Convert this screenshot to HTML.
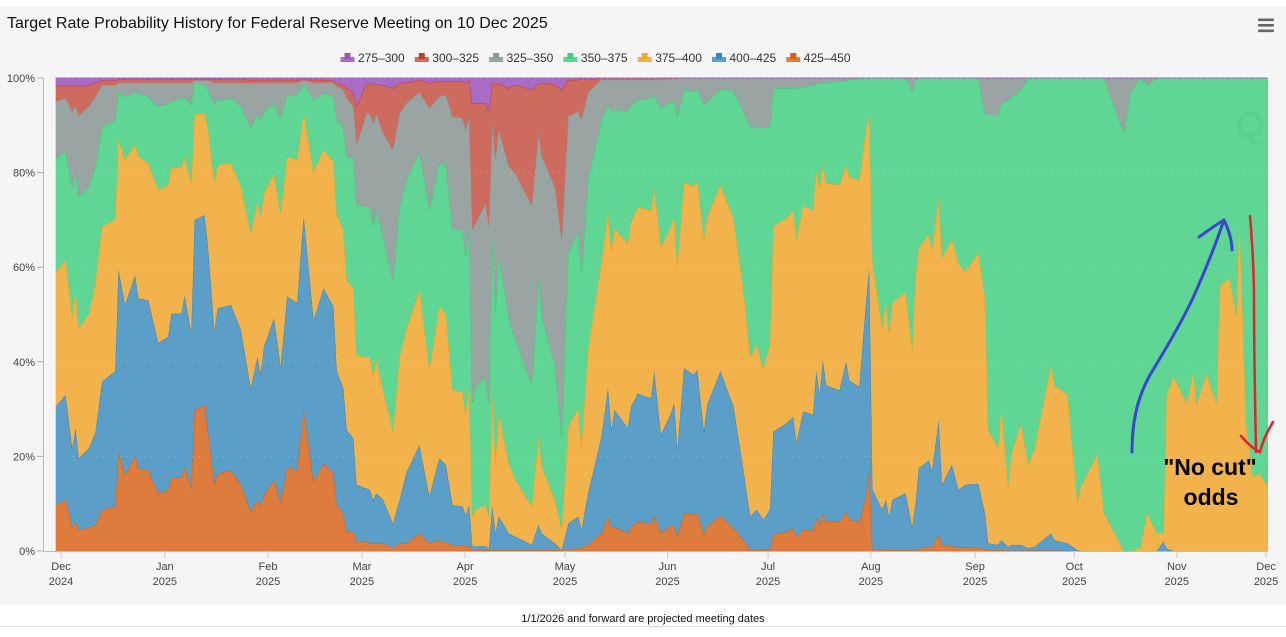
<!DOCTYPE html>
<html><head><meta charset="utf-8">
<style>
html,body{margin:0;padding:0;background:#fff;}
body{width:1286px;height:637px;overflow:hidden;position:relative;font-family:"Liberation Sans",sans-serif;}
#chart{position:absolute;left:0;top:0;}
</style></head>
<body>
<svg id="chart" width="1286" height="637" viewBox="0 0 1286 637" xmlns="http://www.w3.org/2000/svg">
  <rect x="0" y="6" width="1286" height="599" fill="#f5f5f5"/>
  <line x1="0" y1="626.5" x2="1286" y2="626.5" stroke="#dcdcdc" stroke-width="1"/>
  <text x="7" y="28" font-size="16" fill="#111" font-family="Liberation Sans, sans-serif">Target Rate Probability History for Federal Reserve Meeting on 10 Dec 2025</text>
  <g>
    <rect x="1258" y="18.5" width="16" height="2.6" rx="1" fill="#666"/>
    <rect x="1258" y="24" width="16" height="2.6" rx="1" fill="#666"/>
    <rect x="1258" y="29.5" width="16" height="2.6" rx="1" fill="#666"/>
  </g>
  <g id="legend"></g>
  <g id="areas"></g>
  <g id="grid"></g>
  <g id="axes"></g>
  <text x="1250" y="138" font-size="38" font-weight="bold" fill="#4cc77f" text-anchor="middle" opacity="0.3">Q</text>
  <g>
    <path d="M1132,452 C1132,425 1136,400 1150,375 C1165,350 1180,325 1192,300 C1202,278 1212,255 1224,220 M1224,220 C1228,228 1232,240 1232,250 M1224,220 C1214,226 1206,232 1199,237" fill="none" stroke="#3a45d0" stroke-width="3" stroke-linecap="round"/>
    <path d="M1250,216 C1252,240 1254,270 1254,300 C1254,340 1255,400 1256,452 M1241,436 C1248,444 1255,450 1260,452 C1263,440 1268,430 1273,422" fill="none" stroke="#e8202a" stroke-width="2.5" stroke-linecap="round"/>
    <text x="1210" y="475" font-size="23" font-weight="bold" fill="#000" text-anchor="middle">"No cut"</text>
    <text x="1211" y="505" font-size="23" font-weight="bold" fill="#000" text-anchor="middle">odds</text>
  </g>
  <text x="643" y="622" font-size="11" fill="#111" text-anchor="middle">1/1/2026 and forward are projected meeting dates</text>
</svg>
<script>
// Days since 2024-12-01
const days = [-1,2,4,5,6,9,11,13,17,18,20,23,24,27,30,33,34,37,38,40,41,44,45,47,48,52,55,58,60,61,62,65,67,69,72,74,77,80,83,84,86,87,89,90,93,94,95,96,98,101,103,105,109,112,115,117,119,122,123,124,125,126,129,130,131,132,133,136,138,143,145,146,150,152,154,157,158,160,164,166,167,168,172,173,175,179,180,182,185,186,187,189,192,193,195,196,200,204,207,209,211,213,215,216,220,222,223,225,228,229,230,231,232,236,238,239,242,244,245,246,249,250,251,252,256,258,259,260,263,264,266,267,270,272,274,278,280,281,284,285,287,288,291,293,295,300,301,305,308,309,314,316,322,324,327,329,332,334,335,337,341,343,344,347,350,351,354,356,357,359,361,363,366];
// Cumulative probability (%) up to top of each bucket, stacked from 425-450 upward
const cum425 = [9.7,10.8,5,6.2,4.4,5,5.5,8.7,9.4,21,16,20.3,17.5,17,12.2,12.9,15.6,15.6,17.8,13.2,29.8,30.9,25.6,14,16.4,17,14,8.3,10.8,9.7,11.8,15,10.4,17.8,17,29.8,14.7,18.5,16.4,9.7,8,4,4,2,2,1.6,1.6,1.6,1.6,0.6,1.6,1.6,3.7,1.6,2.3,1.8,1.3,1.1,1,1,0.2,0.2,0.2,0.2,0.2,0.2,0.2,0.2,0.2,0.2,0.2,0.2,0.2,0.2,0.4,0.6,0.6,1.3,3.7,7.3,4.8,5.1,3.7,5.1,6.2,5.8,7.6,3.7,5.5,5.1,3,8,7.7,7.9,3.7,5.1,7.6,4.8,2.3,0.2,0.3,0.3,0.3,3.7,4,4.8,3,4.4,4.4,6.9,5.5,8,6.2,6.2,8.3,6.6,6.2,11.5,17,0.4,0.3,0.2,0.2,0.2,0.2,0.2,0.3,0.4,0.9,0.9,3.4,1.3,1,0.8,0.8,0.6,0.5,0.2,0.2,0.2,0.1,0.1,0.1,0.1,0.1,0.1,0.1,0,0,0,0,0,0,0,0,0,0,0,0,0,0,0,0,0,0,0,0,0,0,0,0,0,0,0,0];
const cum400 = [30.5,33,21.7,26,19.6,21.7,25,35.8,38,59.5,52,58.3,53.4,53,44,45.3,50.2,50.2,54,46,70,71,65,46.4,51.3,52,46.7,34.4,41,37.6,43.2,49.2,39,53.8,52.4,70.7,48.8,55.5,51.7,38,34.4,25.6,23.8,14,13.2,12.9,10.8,12.2,10.8,5.8,10.8,16.4,22.4,11.5,19.6,18.2,9.7,9.4,7.6,9.7,1,1,1,0.5,9.4,3.7,7.3,3.7,3,1.3,5.5,3.7,1.6,0.2,5.8,7.3,4.4,12.2,24,34.4,25.6,29.8,26,30.5,33.3,32.3,38,24.5,29,31.2,21.4,38.6,37.2,38.3,25.2,30.9,38,30.5,17,7.3,8.7,6.6,8.7,25.2,27,28.4,22.8,29.5,28.8,38,33,40.4,35,34,40,36,34.7,52.4,59.8,12.9,8.7,10.8,7.2,10.8,12.2,5,10,17.5,19.2,16.9,27.7,14,18.2,12.9,14,14.2,8,1.6,1.3,2.3,0.9,1.3,1.3,0.6,0.9,3.7,2.3,1.6,0.2,0,0,0,0,0,0,0,0,2,0.5,0,0,0,0,0,0,0,0,0,0,0,0,0,0,0,0];
const cum375 = [59,61.5,49.5,55,47,50,56.6,68.6,70,87,82.7,86,83.4,82,76.3,77.4,81,81,83.4,77.7,92.2,92.5,89.4,77.7,81.6,82,77,67.2,73.9,70.7,75.6,79.8,71.4,83.4,82.7,92.5,80.2,84.8,82.3,71,67.9,57.3,55.5,41.4,41,41,36.9,40.4,34,25.2,41,46.7,55.5,38.3,51.7,50,34,33.7,28.8,34.4,7.3,8.7,9.7,7.3,33,18.5,29,18.5,15,9.4,24,17.8,10.8,4.4,26.3,30.2,22,42.5,60.8,71.7,63.3,68.2,65,69.6,72.8,72,76.7,64,68.6,70.7,59.8,78,77,78.4,65.8,70.7,77.4,70.3,55,41,43.6,38.3,44,68.6,70.3,72,65.8,73,72,80.5,76.7,81.6,77.7,77.4,81.6,79,78.4,89,92.2,60.8,47,53,46,52.4,54.8,42.5,58,64,66.8,63.6,74.6,62,65.8,60.8,59,63,53.8,25.6,21.7,30.5,13.6,20.6,27,18.2,21.7,39.3,35,33,10,13.6,20.6,8,0,0,0.7,8,3.7,3.7,33,36.9,31.2,37.9,31,37.6,31,56,57.7,49.5,69.6,27,15.5,16.4,13.6];
const cum350 = [83,84.5,76.7,80,75,77,81,89.7,91,97,96,97,96.8,96,94,94.6,95,95.7,96,94.3,98.9,98.5,97.5,94.6,95.3,95.7,94,89.4,92.5,91,93,94.6,91.5,96.4,96.4,98.9,95.3,96.8,96,91,89.7,83.4,83,73,72.8,72.8,68.6,72,66.5,57,72.8,78.4,84.4,72,82,81.6,67.9,67.9,62.2,68.6,31.2,34.7,36.9,31.2,66.5,50.2,62.6,49.2,44.6,35,58,49.5,39,24,63,67.5,58.7,78.4,91,94.3,93,93.2,93,94.3,95.3,95.7,96.4,93.6,95,95,91.8,97.5,97.2,97.5,94.3,95,97.5,97.2,92.9,89.7,89.7,89.4,89.7,97.8,97.8,97.8,97.8,98.1,98.4,98.9,98.9,99,99,99.2,99.4,99.6,99.8,100,100,100,100,100,100,100,100,97,99.5,100,100,100,100,100,100,100,100,100,92.5,92.2,92.2,94.6,95.3,96,97.5,100,100,100,100,100,100,100,100,100,88.3,97,100,98.5,100,100,100,100,100,100,100,100,100,100,100,100,100,100,100,100,100,100,100];
const cum325 = [95,95.7,93,94,92,94,96,98.5,98.5,99,99,99,99,99,99,99,99,99,99,99,99.5,99.5,99.5,99,99,99,99,98.9,99,99,99,99,99,99,99,99.5,99,99,99,98.2,97.5,95.7,94,86,92.5,92.5,90.4,92.5,88.3,84.8,92.5,94.6,97,93.6,96,96.5,91.8,91.5,89,91.8,67.9,69.3,73.5,68.6,90.4,82.7,89,81.3,79.8,73,88.3,83.4,77,65.7,91.8,92.9,91.2,97,99.6,99.6,99.6,99.6,99.6,99.6,99.6,99.6,99.6,99.6,99.8,99.8,99.8,100,100,100,100,100,100,100,100,100,100,100,100,100,100,100,100,100,100,100,100,100,100,100,100,100,100,100,100,100,100,100,100,100,100,100,100,100,100,100,100,100,100,100,100,100,100,100,100,100,100,100,100,100,100,100,100,100,100,100,100,100,100,100,100,100,100,100,100,100,100,100,100,100,100,100,100,100,100,100,100,100,100,100,100,100];
const cum300 = [98.5,98.5,98.5,98.5,98.5,98.5,99,99.5,99.5,99.7,99.7,99.7,99.7,99.7,99.7,99.7,99.7,99.7,99.7,99.7,99.8,99.8,99.8,99.7,99.7,99.7,99.7,99.6,99.6,99.6,99.6,99.6,99.6,99.6,99.6,99.7,99.6,99.6,99.4,99,98.5,97.8,97,94,99,98.9,98.5,98.7,98.5,97.8,99,99,99.6,98.9,99.3,99.3,99.3,99.3,98.9,99.6,94.6,94.6,94.6,92.9,98.9,98.6,98.9,97.8,98.6,97.5,98.9,98.9,98.6,97.5,99.6,99.6,99.8,99.6,100,100,100,100,100,100,100,100,100,100,100,100,100,100,100,100,100,100,100,100,100,100,100,100,100,100,100,100,100,100,100,100,100,100,100,100,100,100,100,100,100,100,100,100,100,100,100,100,100,100,100,100,100,100,100,100,100,100,100,100,100,100,100,100,100,100,100,100,100,100,100,100,100,100,100,100,100,100,100,100,100,100,100,100,100,100,100,100,100,100,100,100,100,100,100,100,100,100,100,100,100,100,100,100];
const seriesNames = ["425-450","400-425","375-400","350-375","325-350","300-325","275-300"];
const tickDays = [0.6,32,63.2,91.6,122.8,153,184,214.4,245.5,277,307,338,365];
const tickMonths = ["Dec","Jan","Feb","Mar","Apr","May","Jun","Jul","Aug","Sep","Oct","Nov","Dec"];
const tickYears = ["2024","2025","2025","2025","2025","2025","2025","2025","2025","2025","2025","2025","2025"];
const yTicks = [0,20,40,60,80,100];

const NS="http://www.w3.org/2000/svg";
const PL=55, PR=1268, PT=78, PB=551;
function xScale(d){ return 59 + d*3.307; }
function yScale(p){ return PB - (PB-PT)*p/100; }
function clampX(x){ return Math.max(PL, Math.min(PR, x)); }

const N = Math.min(days.length, cum425.length, cum400.length, cum375.length, cum350.length, cum325.length, cum300.length);
const D = days.slice(0,N);
const top100 = D.map(()=>100);
const bounds = [D.map(()=>0), cum425.slice(0,N), cum400.slice(0,N), cum375.slice(0,N), cum350.slice(0,N), cum325.slice(0,N), cum300.slice(0,N), top100];
const seriesValues = seriesNames.map((n,i)=>bounds[i+1].map((v,j)=>Math.max(0,v-bounds[i][j])));
const fills = ["#dd7c3d","#5b9ec8","#f2b24c","#5fd693","#9aa5a3","#cc6b5e","#a86cc4"];
const strokes = ["#d9610f","#3a88c0","#f5a623","#3fcf7c","#8d9a98","#c53d2e","#9b59b6"];

const areas=document.getElementById('areas');
seriesNames.forEach((name,i)=>{
  const lower = D.map((d,j)=>{let s=0; for(let k=0;k<i;k++) s+=seriesValues[k][j]; return s;});
  const upper = lower.map((v,j)=>v+seriesValues[i][j]);
  let d='';
  D.forEach((dd,j)=>{ d += (j?'L':'M')+clampX(xScale(dd)).toFixed(1)+','+yScale(upper[j]).toFixed(1); });
  for(let j=N-1;j>=0;j--){ d += 'L'+clampX(xScale(D[j])).toFixed(1)+','+yScale(lower[j]).toFixed(1); }
  d+='Z';
  const p=document.createElementNS(NS,'path');
  p.setAttribute('d',d);
  p.setAttribute('fill',fills[i]);
  
  
  areas.appendChild(p);
  let ld='';
  D.forEach((dd,j)=>{ ld += (j?'L':'M')+clampX(xScale(dd)).toFixed(1)+','+yScale(upper[j]).toFixed(1); });
  const l=document.createElementNS(NS,'path');
  l.setAttribute('d',ld);
  l.setAttribute('fill','none');
  l.setAttribute('stroke',strokes[i]);
  l.setAttribute('stroke-width','1');
  
  
  areas.appendChild(l);
});

const grid=document.getElementById('grid');
const axes=document.getElementById('axes');
yTicks.forEach(t=>{
  const y=yScale(t);
  if(t>0){
    const g=document.createElementNS(NS,'line');
    g.setAttribute('x1',PL);g.setAttribute('x2',PR+10);g.setAttribute('y1',y);g.setAttribute('y2',y);
    g.setAttribute('stroke','#c8c8c8');g.setAttribute('stroke-dasharray','1,5');g.setAttribute('opacity','0.6');
    
    
    grid.appendChild(g);
  }
  const tk=document.createElementNS(NS,'line');
  tk.setAttribute('x1',37);tk.setAttribute('x2',43);tk.setAttribute('y1',y);tk.setAttribute('y2',y);
  tk.setAttribute('stroke','#aaa');
  
  
  axes.appendChild(tk);
  const tx=document.createElementNS(NS,'text');
  tx.setAttribute('x',35);tx.setAttribute('y',y+4);tx.setAttribute('text-anchor','end');
  tx.setAttribute('font-size','11');tx.setAttribute('fill','#444');
  tx.textContent=t+'%';
  
  
  axes.appendChild(tx);
});
const ya=document.createElementNS(NS,'line');
ya.setAttribute('x1',43.5);ya.setAttribute('x2',43.5);ya.setAttribute('y1',PT);ya.setAttribute('y2',PB);
ya.setAttribute('stroke','#bbb');


axes.appendChild(ya);
const xa=document.createElementNS(NS,'line');
xa.setAttribute('x1',43);xa.setAttribute('x2',PR);xa.setAttribute('y1',PB+0.5);xa.setAttribute('y2',PB+0.5);
xa.setAttribute('stroke','#bbb');


axes.appendChild(xa);
tickDays.forEach((d,i)=>{
  const x=xScale(d);
  const tk=document.createElementNS(NS,'line');
  tk.setAttribute('x1',x);tk.setAttribute('x2',x);tk.setAttribute('y1',PB);tk.setAttribute('y2',PB+7);
  tk.setAttribute('stroke','#ccc');
  
  
  axes.appendChild(tk);
  [tickMonths[i],tickYears[i]].forEach((s,k)=>{
    const tx=document.createElementNS(NS,'text');
    tx.setAttribute('x',x);tx.setAttribute('y',PB+19+k*15);tx.setAttribute('text-anchor','middle');
    tx.setAttribute('font-size','11');tx.setAttribute('fill','#444');
    tx.textContent=s;
    
    
    axes.appendChild(tx);
  });
});

const legend=document.getElementById('legend');
const legendOrder=[6,5,4,3,2,1,0];
legendOrder.forEach((si,k)=>{
  const lx=341+k*74.3, ly=57;
  const g=document.createElementNS(NS,'g');
  
  
  const r=document.createElementNS(NS,'rect');
  r.setAttribute('x',lx-0.5);r.setAttribute('y',ly);r.setAttribute('width',14);r.setAttribute('height',5);
  r.setAttribute('fill',fills[si]);
  g.appendChild(r);
  const m=document.createElementNS(NS,'rect');
  m.setAttribute('x',lx+3.5);m.setAttribute('y',ly-4);m.setAttribute('width',6);m.setAttribute('height',6);
  m.setAttribute('fill',strokes[si]);
  g.appendChild(m);
  const t=document.createElementNS(NS,'text');
  t.setAttribute('x',lx+17);t.setAttribute('y',ly+5);t.setAttribute('font-size','12');t.setAttribute('fill','#333');
  t.textContent=seriesNames[si].replace('-','\u2013');
  g.appendChild(t);
  legend.appendChild(g);
});
</script>
</body></html>
